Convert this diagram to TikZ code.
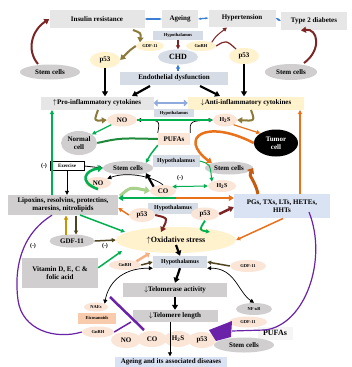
\documentclass[tikz,border=0pt]{standalone}
\usepackage{fontspec}
\setmainfont{Liberation Serif}
\usetikzlibrary{arrows.meta,shapes.geometric}
\pgfdeclarelayer{back}
\pgfsetlayers{back,main}
\definecolor{gA}{HTML}{E7E6E6}
\definecolor{gB}{HTML}{D0CECE}
\definecolor{bgc}{HTML}{D6DCE5}
\definecolor{lbc}{HTML}{DAE3F3}
\definecolor{ylc}{HTML}{FFF2CC}
\definecolor{pcc}{HTML}{FBE5D6}
\definecolor{occ}{HTML}{F8CBAD}
\definecolor{blc}{HTML}{3A7FD5}
\definecolor{grc}{HTML}{00B050}
\definecolor{dgc}{HTML}{1F8A3B}
\definecolor{lgc}{HTML}{A9D18E}
\definecolor{orc}{HTML}{E8711A}
\definecolor{brc}{HTML}{C55A11}
\definecolor{drc}{HTML}{7B2525}
\definecolor{olc}{HTML}{8C7A3A}
\definecolor{dolc}{HTML}{4F4422}
\definecolor{goldc}{HTML}{C89600}
\definecolor{puc}{HTML}{6A22A8}
\definecolor{salc}{HTML}{F4B183}
\definecolor{hbc}{HTML}{8FAADC}
\tikzset{
 bx/.style={rectangle, inner sep=0pt, align=center, font=\bfseries\fontsize{7}{8}\selectfont},
 el/.style={ellipse, inner sep=0pt, align=center, font=\bfseries\fontsize{7}{8}\selectfont},
 tinyf/.style={font=\bfseries\fontsize{4.5}{5}\selectfont},
 smf/.style={font=\bfseries\fontsize{6}{7}\selectfont},
 tip/.style={-{Triangle[length=4pt,width=4pt]}},
 bigtip/.style={-{Triangle[length=5pt,width=6pt]}},
 bline/.style={draw=blc, line width=1.2pt},
 thickblk/.style={line width=2.2pt, bigtip},
}
\begin{document}
\begin{tikzpicture}[x=1pt,y=-1pt]
\useasboundingbox[fill=white] (0,0) rectangle (352,367);

% ---------- nodes ----------
\node[bx,fill=gA,minimum width=95pt,minimum height=18pt] (ins) at (97,19) {Insulin resistance};
\node[bx,fill=gA,minimum width=36pt,minimum height=18pt] (age) at (180,19) {Ageing};
\node[bx,fill=gA,minimum width=67pt,minimum height=17pt] (hyp) at (242,18) {Hypertension};
\node[bx,fill=gA,minimum width=66pt,minimum height=18pt] (t2d) at (314,21) {Type 2 diabetes};
\node[bx,tinyf,fill=bgc,minimum width=50pt,minimum height=9pt] (hyT) at (178,35) {Hypothalamus};
\node[el,tinyf,fill=ylc,minimum width=28pt,minimum height=10pt] (gdfT) at (150,46) {GDF-11};
\node[el,tinyf,fill=ylc,minimum width=30pt,minimum height=10pt] (gnT) at (201,46) {GnRH};
\node[el,fill=bgc,minimum width=40pt,minimum height=15pt,font=\bfseries\fontsize{8}{9}\selectfont] (chd) at (178,57) {CHD};
\node[bx,fill=bgc,minimum width=108pt,minimum height=13pt] (endo) at (174,78) {Endothelial dysfunction};
\node[el,fill=ylc,minimum width=30pt,minimum height=16pt] (p53L) at (105,60) {p53};
\node[el,fill=ylc,minimum width=30pt,minimum height=16pt] (p53R) at (244,56) {p53};
\node[el,fill=gB,minimum width=60pt,minimum height=15pt] (scL) at (50,72) {Stem cells};
\node[el,fill=gB,minimum width=52pt,minimum height=16pt] (scR) at (291,72) {Stem cells};

\node[bx,fill=gA,minimum width=113pt,minimum height=13pt] (pro) at (97,103) {$\uparrow$Pro-inflammatory cytokines};
\node[bx,fill=ylc,minimum width=116pt,minimum height=13pt] (anti) at (246,103) {$\downarrow$Anti-inflammatory cytokines};
\node[bx,tinyf,fill=bgc,minimum width=40pt,minimum height=8pt] (hyM1) at (174,113) {Hypothalamus};
\node[el,fill=pcc,minimum width=30pt,minimum height=13pt] (noT) at (122,120) {NO};
\node[el,fill=pcc,minimum width=24pt,minimum height=13pt,smf] (hsT) at (225,120) {H\textsubscript{2}S};
\node[el,fill=gB,minimum width=36pt,minimum height=24pt] (norm) at (79,143) {Normal\\cell};
\node[el,fill=black,text=white,minimum width=44pt,minimum height=27pt] (tum) at (276,143) {Tumor\\cell};
\node[bx,fill=pcc,minimum width=32pt,minimum height=12pt] (pufa) at (174,139) {PUFAs};

\node[bx,draw=black,line width=0.5pt,fill=white,minimum width=34pt,minimum height=9pt,font=\bfseries\fontsize{5}{6}\selectfont] (ex) at (67,166) {Exercise};
\node[el,fill=gB,minimum width=50pt,minimum height=14pt] (scM) at (128,168) {Stem cells};
\node[bx,smf,fill=bgc,minimum width=47pt,minimum height=12pt] (hyM2) at (176,161) {Hypothalamus};
\node[el,fill=gB,minimum width=48pt,minimum height=13pt] (scM2) at (229,168) {Stem cells};
\node[el,fill=pcc,minimum width=26pt,minimum height=12pt] (noM) at (98,183) {NO};
\node[el,fill=pcc,minimum width=26pt,minimum height=12pt] (coM) at (163,191) {CO};
\node[el,fill=pcc,minimum width=28pt,minimum height=12pt,smf] (hsM) at (222,186) {H\textsubscript{2}S};
\node[bx,fill=gB,minimum width=110pt,minimum height=20pt] (lip) at (63,205) {Lipoxins, resolvins, protectins,\\maresins, nitrolipids};
\node[bx,fill=lbc,minimum width=96pt,minimum height=24pt] (pgs) at (282,206) {PGs, TXs, LTs, HETEs,\\HHTs};
\node[bx,smf,fill=bgc,minimum width=50pt,minimum height=11pt] (hyM3) at (173,208) {Hypothalamus};
\node[el,fill=pcc,minimum width=26pt,minimum height=14pt] (p53M1) at (142,215) {p53};
\node[el,fill=pcc,minimum width=28pt,minimum height=13pt] (p53M2) at (205,214) {p53};

\node[el,fill=ylc,minimum width=120pt,minimum height=26pt,font=\bfseries\fontsize{8}{9}\selectfont] (ox) at (176,240) {$\uparrow$Oxidative stress};
\node[el,fill=gB,minimum width=45pt,minimum height=13pt] (gdfM) at (72,241) {GDF-11};
\node[bx,fill=gB,minimum width=76pt,minimum height=30pt] (vit) at (60,273) {Vitamin D, E, C \&\\folic acid};
\node[el,tinyf,fill=pcc,minimum width=32pt,minimum height=10pt] (gnM) at (125,265) {GnRH};
\node[bx,smf,fill=bgc,minimum width=54pt,minimum height=12pt] (hyL) at (180,262) {Hypothalamus};
\node[el,tinyf,fill=pcc,minimum width=36pt,minimum height=12pt] (gdfL) at (248,266) {GDF-11};
\node[bx,fill=gB,minimum width=104pt,minimum height=14pt] (telA) at (175,290) {$\downarrow$Telomerase activity};
\node[el,tinyf,fill=pcc,minimum width=24pt,minimum height=9pt] (naes) at (96,307) {NAEs};
\node[bx,tinyf,fill=occ,minimum width=38pt,minimum height=11pt] (eico) at (97,318) {Eicosanoids};
\node[el,tinyf,fill=pcc,minimum width=32pt,minimum height=11pt] (gnB) at (98,332) {GnRH};
\node[el,tinyf,fill=gB,minimum width=36pt,minimum height=12pt] (nfkb) at (254,309) {NF-κB};
\node[el,tinyf,fill=pcc,minimum width=38pt,minimum height=11pt] (gdfB) at (248,322) {GDF-11};
\node[bx,fill=gray!8,minimum width=35pt,minimum height=13pt,font=\bfseries\fontsize{8}{9}\selectfont] (pufB) at (275,333) {PUFAs};
\node[el,fill=gB,minimum width=60pt,minimum height=15pt] (scB) at (244,345) {Stem cells};
\node[bx,fill=gB,minimum width=85pt,minimum height=12pt] (telL) at (175,316) {$\downarrow$Telomere length};
\node[el,fill=pcc,minimum width=30pt,minimum height=16pt] (noB) at (126,340) {NO};
\node[el,fill=pcc,minimum width=30pt,minimum height=16pt] (coB) at (152,339) {CO};
\node[el,fill=pcc,minimum width=28pt,minimum height=16pt] (hsB) at (178,339) {H\textsubscript{2}S};
\node[el,fill=pcc,minimum width=28pt,minimum height=16pt] (p53B) at (202,340) {p53};
\node[bx,fill=lbc,minimum width=112pt,minimum height=11pt] (agd) at (171,362) {Ageing and its associated diseases};

\node[smf] (m1) at (44,166) {(-)};
\node[smf] (m2) at (33,246) {(-)};
\node[smf] (m3) at (105,246) {(-)};
\node[smf] (m4) at (180,178) {(-)};

% ---------- background connectors ----------
\begin{pgfonlayer}{back}
\draw[bline] (61,28) -- (61,36) -- (293,36) -- (293,30);
\draw[bline,tip] (80,36) -- (80,91);
\draw[bline,tip] (263,36) -- (263,91);
\draw[bline,tip] (17,29) -- (17,194);
\draw[bline,tip] (329,30) -- (329,194);
\draw[draw=orc,line width=1.5pt,tip] (pufa.north) -- (176,86);
\draw[black,line width=0.8pt] (176,146) -- (176,229);
\draw[grc,line width=1pt,tip] (183,186) -- (183,145.5);
\draw[grc,line width=1pt,tip] (162,186) -- (162,145.5);
\end{pgfonlayer}

% ---------- blue ----------
\draw[bline,{Stealth[length=3pt]}-{Stealth[length=3pt]}] (ins.east) -- (age.west);
\draw[bline,{Stealth[length=3pt]}-{Stealth[length=3pt]}] (age.east) -- (hyp.west);
\draw[bline,{Stealth[length=3pt]}-{Stealth[length=3pt]}] (hyp.east) -- (t2d.west);
\draw[bline,tip] (endo.north -| chd.south) -- (chd.south);
\draw[draw=hbc,line width=2.2pt,{Triangle[length=4pt,width=7pt]}-{Triangle[length=4pt,width=7pt]}] (pro.east) -- (anti.west);

% ---------- dark red ----------
\draw[drc,line width=2pt,{}-{Triangle[length=5pt,width=6pt]}] (38,64) .. controls (26,50) and (32,30) .. (ins.west);
\draw[drc,line width=2pt,{}-{Triangle[length=5pt,width=6pt]}] (304,63) .. controls (322,50) and (318,28) .. (301,30.5);
\draw[drc,line width=1.5pt,tip] (hyT.south) -- (chd.north);
\draw[drc,line width=1pt,tip] (gnT.north east) .. controls (216,36) .. (227,27.5);
\draw[drc,line width=1.2pt] (gnT.east) .. controls (226,40) .. (236,49);
\draw[drc,line width=2pt,{}-{Triangle[length=5pt,width=6pt]}] (p53M1.east) .. controls (168,218) .. (161,232);
\draw[drc,line width=2.5pt,{}-{Triangle[length=5pt,width=6pt]}] (p53M2.east) -- (pgs.west |- 207,207);

% ---------- olive ----------
\draw[olc,line width=2pt,{}-{Triangle[length=5pt,width=6pt]}] (133,30) .. controls (141,33) .. (gdfT.north west);
\draw[olc,line width=2pt,{}-{Triangle[length=5pt,width=6pt]}] (gdfT.west) .. controls (130,50) .. (p53L.east);
\draw[olc,line width=2pt,{}-{Triangle[length=5pt,width=6pt]}] (98,110) .. controls (94,121) .. (noT.west);
\draw[olc,line width=2pt,{}-{Triangle[length=5pt,width=6pt]}] (251,110) .. controls (255,121) .. (hsT.east);

% ---------- black ----------
\draw[thickblk] (p53L.south) -- (p53L.south |- pro.north);
\draw[thickblk] (p53R.south) -- (p53R.south |- anti.north);
\draw[thickblk] (150,86) -- (132,96);
\draw[thickblk] (200,86) -- (220,96);
\draw[thickblk] (coM.north west) -- (scM.south east);
\draw[thickblk] (176,245) -- (hyL.north);
\draw[thickblk] (hyL.south) -- (telA.north);
\draw[thickblk] (telA.south) -- (telL.north);
\draw[black,line width=0.8pt,tip] (ex.east) -- (scM.west);
\draw[black,line width=0.8pt,tip] (ex.south) -- (lip.north -| ex.south);
\draw[black,line width=0.7pt,tip] (coM.north) .. controls (150,175) and (125,172) .. (noM.north east);
\draw[black,line width=0.7pt,tip] (pufa.north west) .. controls (160,120) .. (noT.east);
\draw[black,line width=0.7pt,tip] (pufa.north east) .. controls (190,121) .. (hsT.west);
\draw[black,line width=0.7pt,{Triangle[length=4pt,width=4pt]}-{Triangle[length=4pt,width=4pt]}] (hyL.south west) .. controls (120,268) and (108,285) .. (naes.north east);
\draw[black,line width=0.7pt,{Triangle[length=4pt,width=4pt]}-{Triangle[length=4pt,width=4pt]}] (hyL.south east) .. controls (235,268) and (238,292) .. (nfkb.north);
\draw[dolc,line width=1.5pt,tip] (gnM.east) -- (hyL.west);
\draw[dolc,line width=1.5pt,tip] (gdfL.west) -- (hyL.east);
\draw[dolc,line width=1.5pt,tip] (gdfM.east) -- (ox.west);
\draw[goldc,line width=2pt,tip] (66,234.5) -- (66,215.5);
\draw[dolc,line width=2pt,tip] (76,215.5) -- (76,234.5);
\draw[black,line width=0.8pt,tip] (telL.south -| 170,0) -- (agd.north -| 170,0);

% ---------- green ----------
\draw[grc,line width=1.5pt,tip] (52,195) -- (52,110);
\draw[grc,line width=1.2pt,tip] (noT.south west) -- (norm.north east);
\draw[dgc,line width=2pt] (norm.east) .. controls (120,138) .. (pufa.west);
\draw[grc,line width=1.5pt,tip] (pufa.south west) .. controls (150,155) .. (scM.north east);
\draw[grc,line width=1.2pt,tip] (noT.east) -- (hsT.west);
\draw[grc,line width=2.6pt,{}-{Triangle[length=5pt,width=7pt]}] (noM.south) .. controls (78,182) and (85,170) .. (scM.west);
\draw[grc,line width=1pt,{Triangle[length=4pt,width=4pt]}-{Triangle[length=4pt,width=4pt]}] (coM.north east) -- (hsM.west);
\draw[grc,line width=1pt,tip] (hyM2.east) .. controls (210,164) .. (hsM.north west);
\draw[lgc,line width=3pt,{}-{Triangle[length=5pt,width=8pt]}] (120,196) .. controls (130,187) .. (coM.west);
\draw[grc,line width=2pt,bigtip] (176,198) -- (lip.east |- 198,198);
\draw[orc,line width=2pt,bigtip] (176,198) -- (pgs.west |- 198,198);
\draw[grc,line width=1.5pt,tip] (80,215) -- (125,232);
\draw[grc,line width=1.5pt,tip] (vit.north east) ++(0,10) -- (122,251);
\draw[grc,line width=1.8pt,tip] (p53M2.south) .. controls (199,230) .. (210,232);

% ---------- orange ----------
\draw[orc,line width=1.2pt,tip] (hsT.south east) -- (tum.north west);
\draw[orc,line width=2.5pt,{}-{Triangle[length=5pt,width=7pt]}] (tum.west) .. controls (205,118) and (178,138) .. (scM2.north west);
\draw[orc,line width=1.5pt,tip] (300,193.5) -- (300,110);
\draw[brc,line width=3pt,{}-{Triangle[length=5pt,width=8pt]}] (258,194) .. controls (255,180) and (248,176) .. (scM2.east);
\draw[orc,line width=1.5pt,tip] (p53M1.west) -- (lip.east |- 208,208);
\draw[orc,line width=1.5pt,tip] (283,218.5) -- (ox.east);
\draw[salc,line width=2.5pt,{}-{Triangle[length=4pt,width=6pt]}] (gnM.north east) -- (150,253);

% ---------- purple ----------
\draw[puc,line width=1.2pt] (309,212) .. controls (328,260) and (305,325) .. (265,330) -- (232,331);
\fill[puc] (209,330) -- (232,321) -- (231,337) -- (216,341) -- cycle;
\draw[puc,line width=1.2pt] (lip.south -| 52,0) .. controls (20,235) and (14,270) .. (18,300) .. controls (22,330) and (55,340) .. (gnB.west);
\draw[puc,line width=2.5pt] (110,297) -- (144,330);
\draw[puc,line width=1.5pt] (gnB.east) -- (131,322);
\end{tikzpicture}
\end{document}
